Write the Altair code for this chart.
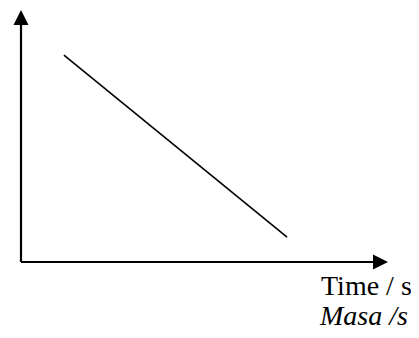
import altair as alt
import pandas as pd

# Schematic line (decreasing straight line), in arbitrary axis units
line_x = [1.17, 7.25]
line_y = [8.21, 0.99]

# Axis extents (arrow tips sit at the domain ends)
x_max = 10
y_max = 10

# Axis labels
label_main = "Time / s"
label_alt = "Masa /s"

xs = alt.Scale(domain=[0, x_max], nice=False, zero=False)
ys = alt.Scale(domain=[0, y_max], nice=False, zero=False)

line_df = pd.DataFrame({"x": line_x, "y": line_y})
yaxis_df = pd.DataFrame({"x": [0], "y": [0], "y2": [y_max * 0.97]})
xaxis_df = pd.DataFrame({"x": [0], "x2": [x_max * 0.97], "y": [0]})
up_df = pd.DataFrame({"x": [0], "y": [y_max]})
right_df = pd.DataFrame({"x": [x_max], "y": [0]})

X = lambda f="x": alt.X(f"{f}:Q", scale=xs, axis=None)
Y = lambda f="y": alt.Y(f"{f}:Q", scale=ys, axis=None)

line = alt.Chart(line_df).mark_line(color="black", strokeWidth=1.6).encode(x=X(), y=Y())

yaxis = alt.Chart(yaxis_df).mark_rule(color="black", strokeWidth=2.2).encode(
    x=X(), y=Y(), y2="y2:Q"
)
xaxis = alt.Chart(xaxis_df).mark_rule(color="black", strokeWidth=2.2).encode(
    x=X(), x2="x2:Q", y=Y()
)

up_arrow = alt.Chart(up_df).mark_point(
    shape="M0,0L1,2L-1,2Z", size=225, filled=True, color="black", opacity=1, strokeWidth=0
).encode(x=X(), y=Y())

right_arrow = alt.Chart(right_df).mark_point(
    shape="M0,0L-2,-1L-2,1Z", size=225, filled=True, color="black", opacity=1, strokeWidth=0
).encode(x=X(), y=Y())

t1 = alt.Chart(pd.DataFrame({"t": [label_main]})).mark_text(
    font="Liberation Serif", fontSize=28, align="left", baseline="alphabetic", color="black"
).encode(text="t:N", x=alt.value(300), y=alt.value(285))

t2 = alt.Chart(pd.DataFrame({"t": [label_alt]})).mark_text(
    font="Liberation Serif", fontSize=28, fontStyle="italic", align="left",
    baseline="alphabetic", color="black"
).encode(text="t:N", x=alt.value(299), y=alt.value(315))

chart = alt.layer(yaxis, xaxis, line, up_arrow, right_arrow, t1, t2).properties(
    width=367,
    height=252,
    padding={"left": 13, "top": 2, "right": 23, "bottom": 68},
    autosize=alt.AutoSizeParams(type="none"),
    background="white",
).configure_view(strokeWidth=0, stroke="transparent")

chart.save("out.html", embed_options={"renderer": "svg", "actions": False})
